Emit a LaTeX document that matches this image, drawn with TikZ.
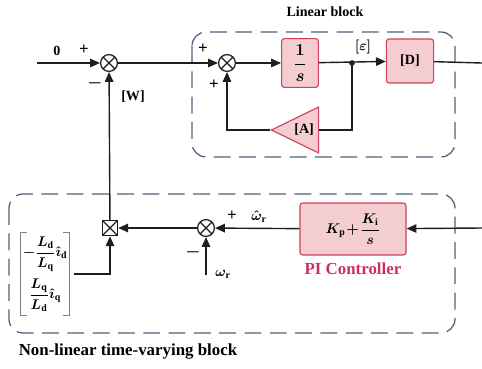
\documentclass[tikz,border=0pt]{standalone}
\usepackage{fontspec}
\setmainfont{Liberation Serif}
\usepackage{amsmath}
\usetikzlibrary{arrows.meta,shapes.geometric,calc}
\definecolor{boxfill}{HTML}{F3CDD0}
\definecolor{boxline}{HTML}{D0405A}
\definecolor{dashline}{HTML}{4F6379}
\definecolor{picolor}{HTML}{C8325A}
\definecolor{wirecol}{HTML}{1E1E1E}
\tikzset{
    every node/.append style={font=\bfseries\boldmath},
    wire/.style={line width=1pt, draw=wirecol},
    flow/.style={
        wire,
        -{Triangle[length=7pt,width=6pt]}
    },
    crosspic/.style={
        path picture={
            \draw[line width=0.9pt, wirecol]
            (path picture bounding box.north west) -- (path picture bounding box.south east)
            (path picture bounding box.north east) -- (path picture bounding box.south west);
        }
    },
    sumjunction/.style={circle, draw=wirecol, line width=0.9pt, minimum size=0.42cm, inner sep=0pt, crosspic},
    multjunction/.style={rectangle, draw=wirecol, line width=0.9pt, minimum size=0.38cm, inner sep=0pt, crosspic},
    blockbox/.style={rectangle, rounded corners=2pt, draw=boxline, fill=boxfill, line width=0.8pt, inner sep=0pt},
    gainblock/.style={
        isosceles triangle, shape border rotate=180, isosceles triangle stretches,
        draw=boxline, fill=boxfill, line width=0.8pt,
        minimum width=1.15cm, minimum height=1.18cm, inner sep=0pt
    },
    groupbox/.style={draw=dashline, dash pattern=on 12pt off 6pt, line width=0.9pt, rounded corners=10pt},
    bracket/.style={draw=gray, line width=0.6pt}
}
\begin{document}
\begin{tikzpicture}[x=0.025cm, y=-0.025cm]
    \useasboundingbox (0,0) rectangle (482,369);
    % dashed groups
    \draw[groupbox] (192,32) rectangle (455,157);
    \draw[groupbox] (9,194) rectangle (455,333);
    \node (linlabel) at (325,12) {Linear block};
    \node[font=\large\bfseries] (nllabel) at (128,352) {Non-linear time-varying block};

    % linear block
    \coordinate (zeroin) at (37,63);
    \node[sumjunction] (sumw) at (109,63) {};
    \node[sumjunction] (suma) at (227,63) {};
    \node[blockbox, minimum width=0.92cm, minimum height=1.22cm] (integ) at (300,63) {\large$\dfrac{1}{s}$};
    \node[blockbox, minimum width=1.18cm, minimum height=1.1cm] (dmat) at (410,61) {[D]};
    \coordinate (dout) at (482,63);
    \coordinate (branch) at (352,63);
    \node[gainblock, anchor=apex] (amat) at (270,130) {[A]};

    \draw[flow] (zeroin) -- (sumw);
    \draw[flow] (sumw) -- (suma);
    \draw[flow] (suma) -- (integ);
    \draw[flow] (integ) -- (dmat);
    \draw[wire] (dmat) -- (dout);
    \draw[wire] (branch) |- (amat.east);
    \draw[flow] (amat.apex) -| (suma);
    \fill[wirecol] (branch) circle (2pt);

    % non-linear block
    \coordinate (piin) at (482,228);
    \node[blockbox, minimum width=2.65cm, minimum height=1.3cm] (pictrl) at (353,229) {$K_{\mathrm p}\!+\!\dfrac{K_{\mathrm i}}{s}$};
    \node[text=picolor, font=\large\bfseries] (pilabel) at (353,269) {PI Controller};
    \node[sumjunction] (sumr) at (206,228) {};
    \coordinate (wrin) at (206,275);
    \node[multjunction] (mult) at (110,228) {};
    \node[minimum width=1.45cm, minimum height=2.05cm, inner sep=0pt] (nlmat) at (45,274)
        {\begin{tabular}{@{}c@{}}$-\dfrac{L_{\mathrm d}}{L_{\mathrm q}}\hat{\imath}_{\mathrm d}$\\[12pt]$\dfrac{L_{\mathrm q}}{L_{\mathrm d}}\hat{\imath}_{\mathrm q}$\end{tabular}};
    \draw[bracket] ($(nlmat.north west)+(11,0)$) -- ($(nlmat.north west)+(5,0)$)
        -- ($(nlmat.south west)+(5,0)$) -- ($(nlmat.south west)+(11,0)$);
    \draw[bracket] ($(nlmat.north east)+(-11,0)$) -- ($(nlmat.north east)+(-5,0)$)
        -- ($(nlmat.south east)+(-5,0)$) -- ($(nlmat.south east)+(-11,0)$);

    \draw[flow] (piin) -- (pictrl);
    \draw[flow] (pictrl) -- (sumr);
    \draw[flow] (wrin) -- (sumr);
    \draw[flow] (sumr) -- (mult);
    \draw[flow] (nlmat.east) -| (mult);
    \draw[flow] (mult) -- (sumw);

    % signs and labels
    \foreach \nm/\px/\py/\txt in {plusw/84/50/+, minusw/95/83/$-$, plusa/203/49/+,
        plusfb/214/85/+, plusr/232/216/+, minusr/193/252/$-$}
        \node[font=\large\bfseries\boldmath] (\nm) at (\px,\py) {\txt};
    \node (zerolabel) at (57,51) {0};
    \node (wlabel) at (133,97) {[W]};
    \node (epslabel) at (363,47) {$[\varepsilon]$};
    \node (wrhat) at (259,217) {$\hat{\omega}_{\mathrm r}$};
    \node (wrlabel) at (223,274) {$\omega_{\mathrm r}$};
\end{tikzpicture}
\end{document}
